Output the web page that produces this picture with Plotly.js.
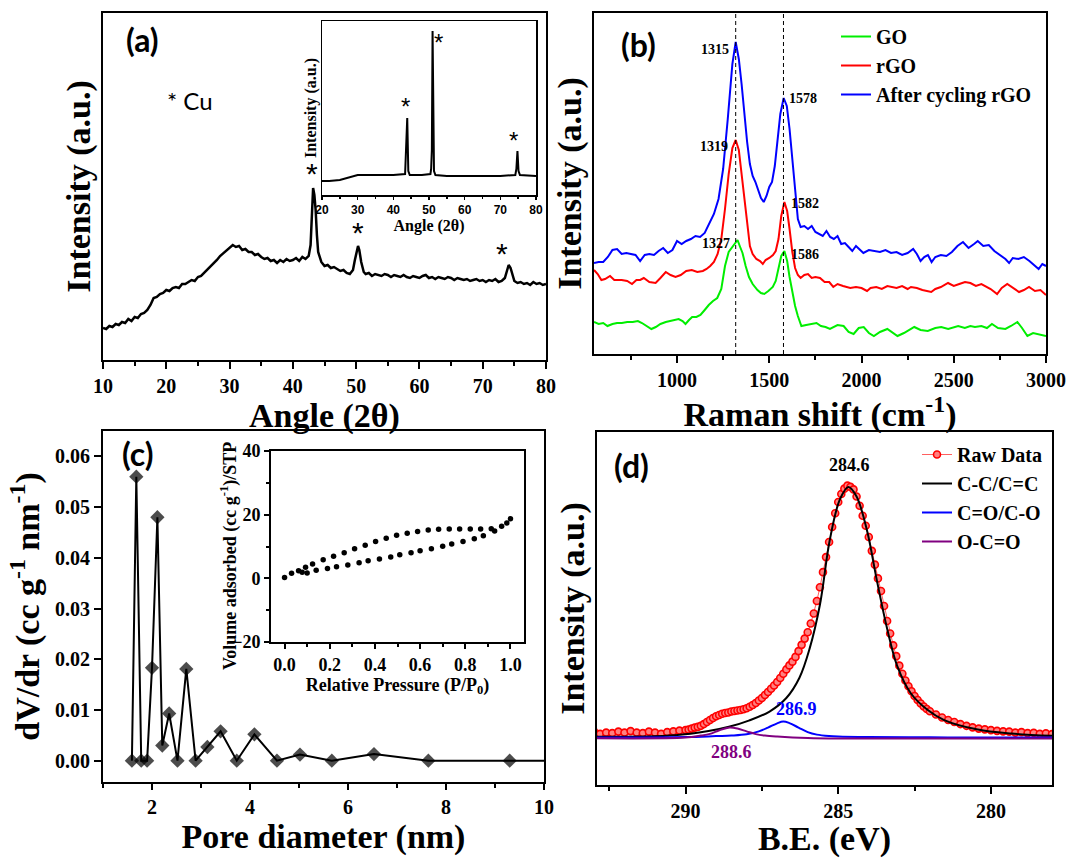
<!DOCTYPE html>
<html>
<head>
<meta charset="utf-8">
<script src="https://cdn.plot.ly/plotly-3.0.1.min.js"></script>
<style>html,body{margin:0;padding:0;background:#fff;}#chart{width:1069px;height:858px;}</style>
</head>
<body>
<div id="chart"></div>
<script>
// ---------- DATA ----------
// (a) XRD main pattern
const xrdAngle = [10.0,10.5,11.0,11.5,12.0,12.5,13.0,13.5,14.0,14.5,15.0,15.5,16.0,16.5,17.0,17.5,18.0,18.5,19.0,19.5,20.0,20.5,21.0,21.5,22.0,22.5,23.0,23.5,24.0,24.5,25.0,25.5,26.0,26.5,27.0,27.5,28.0,28.5,29.0,29.5,30.0,30.5,31.0,31.5,32.0,32.5,33.0,33.5,34.0,34.5,35.0,35.5,36.0,36.5,37.0,37.5,38.0,38.5,39.0,39.5,40.0,40.5,41.0,41.5,42.0,42.5,42.8,43.0,43.2,43.4,43.6,43.8,44.0,44.5,45.0,45.5,46.0,46.5,47.0,47.5,48.0,48.5,49.0,49.5,49.8,50.1,50.3,50.5,50.8,51.2,51.5,52.0,52.5,53.0,53.5,54.0,54.5,55.0,55.5,56.0,56.5,57.0,57.5,58.0,58.5,59.0,59.5,60.0,60.5,61.0,61.5,62.0,62.5,63.0,63.5,64.0,64.5,65.0,65.5,66.0,66.5,67.0,67.5,68.0,68.5,69.0,69.5,70.0,70.5,71.0,71.5,72.0,72.5,73.0,73.5,73.8,74.1,74.4,74.7,75.0,75.5,76.0,76.5,77.0,77.5,78.0,78.5,79.0,79.5,80.0];
const xrdIntensity = [32,31,34,33,36,35,38,37,41,39,43,42,46,47,50,55,62,63,66,67,70,69,72,73,72,76,76,78,80,79,83,84,87,90,93,96,100,104,107,110,112,115,113,114,110,111,108,108,105,106,103,101,102,99,100,97,100,98,101,99,100,102,99,103,101,104,115,150,172,165,150,125,108,98,94,95,92,93,91,89,90,87,86,90,100,110,114,110,98,88,86,87,84,86,85,84,86,85,83,85,84,83,85,83,82,84,83,82,84,85,82,83,81,83,82,81,83,82,80,82,81,80,81,79,80,81,79,80,78,80,79,81,78,79,82,88,95,92,84,79,77,78,76,77,75,78,76,77,75,76];
// (a) inset XRD
const insetAngle = [20,22,25,28,30,35,40,43.3,43.6,43.9,44.2,44.6,48,50.4,50.6,50.8,51.0,51.2,51.4,51.8,55,60,65,70,74.2,74.5,74.8,75.1,75.5,80];
const insetIntensity = [14,14,15,18,20,20,20,21,45,77,24,20,20,21,26,45,164,30,24,20,19,19,19,19,20,26,44,24,20,19];
// (b) Raman spectra
const ramanShiftAfter = [550,575,600,625,650,675,700,725,750,775,800,825,850,875,900,925,950,975,1000,1025,1050,1075,1100,1125,1150,1175,1200,1225,1250,1275,1300,1318,1335,1350,1365,1380,1395,1410,1425,1440,1455,1470,1485,1500,1515,1530,1545,1560,1578,1595,1610,1625,1640,1655,1670,1690,1710,1730,1750,1770,1790,1810,1830,1850,1870,1890,1910,1930,1950,1970,1990,2010,2040,2070,2100,2130,2160,2190,2220,2250,2280,2300,2320,2340,2360,2380,2400,2430,2460,2490,2520,2550,2580,2610,2630,2660,2690,2720,2750,2780,2800,2820,2850,2880,2910,2940,2960,2980,3000];
const ramanAfter = [91,92,92,97,104,105,100,101,100,99,93,99,100,99,103,106,101,104,113,110,113,115,118,117,121,130,140,155,185,235,290,312,295,270,240,212,190,178,172,164,156,152,158,167,172,188,215,240,256,248,225,192,160,135,127,128,125,128,122,120,118,123,117,115,118,110,111,107,103,108,104,101,104,103,102,104,101,102,99,101,105,100,93,97,99,92,97,99,98,102,108,112,106,110,113,108,109,103,99,95,91,96,95,97,93,88,85,90,88];
const ramanShiftRGO = [550,570,590,610,637,660,700,730,756,780,800,820,850,884,910,939,965,992,1020,1050,1080,1110,1140,1160,1180,1200,1220,1240,1260,1280,1300,1318,1335,1350,1365,1380,1395,1410,1430,1450,1465,1480,1500,1520,1535,1550,1565,1582,1597,1610,1625,1640,1655,1670,1690,1710,1730,1750,1775,1800,1825,1847,1870,1900,1939,1970,2000,2030,2049,2080,2110,2140,2158,2190,2220,2250,2268,2300,2330,2360,2378,2400,2430,2469,2500,2530,2561,2590,2620,2650,2671,2700,2735,2760,2790,2820,2854,2880,2908,2940,2970,3000];
const ramanRGO = [84,80,74,75,78,74,74,73,70,74,74,76,72,71,76,82,79,77,79,83,84,82,83,85,88,92,100,115,145,180,206,214,204,180,150,126,108,100,95,93,90,94,96,99,103,115,138,152,143,125,102,86,79,76,79,80,76,77,76,72,72,67,70,68,66,67,66,63,66,67,65,68,67,66,68,65,67,66,64,63,62,65,67,71,68,70,72,71,68,70,68,65,60,66,70,66,62,64,67,63,64,59];
const ramanShiftGO = [550,575,600,623,650,675,701,730,760,788,810,835,861,885,910,939,970,1009,1030,1046,1065,1082,1105,1127,1150,1172,1195,1218,1240,1260,1280,1300,1315,1328,1340,1355,1372,1390,1410,1436,1455,1473,1495,1519,1535,1550,1565,1582,1597,1610,1625,1640,1655,1674,1700,1730,1756,1780,1805,1829,1850,1870,1903,1930,1957,1985,2012,2040,2067,2100,2140,2170,2195,2230,2260,2286,2320,2359,2400,2432,2470,2500,2524,2560,2590,2615,2650,2680,2707,2740,2780,2810,2845,2870,2899,2930,2960,3000];
const ramanGO = [32,30,31,28,30,31,31,32,32,33,31,28,25,27,30,32,33,35,33,30,34,37,37,39,44,49,53,56,65,88,102,107,111,114,108,101,88,77,70,64,61,60,63,67,73,85,98,103,93,77,62,48,38,28,29,30,31,28,27,25,27,29,28,22,20,26,27,21,18,22,25,21,18,21,24,27,24,23,26,27,25,27,28,26,28,27,28,26,30,26,25,28,32,26,18,21,20,18];
const ramanRefLines = [1318, 1577];
const ramanPeakLabels = ['1315','1578','1319','1582','1327','1586'];
// (c) pore size distribution
const poreDiameter = [1.59,1.68,1.78,1.90,2.00,2.11,2.21,2.35,2.52,2.70,2.89,3.13,3.40,3.73,4.09,4.55,5.02,5.67,6.53,7.64,9.30,10.0];
const poreDvDr = [0,0.056,0,0,0.0183,0.048,0.003,0.0093,0,0.0181,0,0.0027,0.0058,0,0.0052,0,0.0012,0,0.0013,0,0,0];
// (c) inset isotherm
const desorbP = [0,0.031,0.062,0.093,0.124,0.171,0.217,0.264,0.310,0.357,0.403,0.450,0.496,0.543,0.589,0.636,0.682,0.729,0.775,0.822,0.868,0.915,0.961,0.984,1.0];
const desorbV = [0.3,1.6,2.4,3.5,4.5,5.8,6.9,8.0,9.3,10.4,11.6,12.6,13.5,14.2,14.7,15.2,15.4,15.5,15.5,15.5,15.5,15.6,16.4,17.4,18.7];
const adsorbP = [0.078,0.10,0.14,0.19,0.23,0.28,0.33,0.37,0.42,0.47,0.51,0.56,0.60,0.65,0.70,0.74,0.79,0.84,0.88,0.93];
const adsorbV = [1.9,1.7,2.5,3.1,3.6,4.2,4.9,5.5,6.1,6.7,7.4,8.0,8.7,9.3,10.1,10.8,11.6,12.4,13.4,14.9];
// (d) XPS C1s
const beRaw = [293.0,292.8,292.6,292.4,292.2,292.0,291.8,291.6,291.4,291.2,291.0,290.8,290.6,290.4,290.2,290.0,289.9,289.8,289.7,289.6,289.5,289.4,289.3,289.2,289.1,289.0,288.9,288.8,288.7,288.6,288.5,288.4,288.3,288.2,288.1,288.0,287.9,287.8,287.7,287.6,287.5,287.4,287.3,287.2,287.1,287.0,286.9,286.8,286.7,286.6,286.5,286.4,286.3,286.2,286.1,286.0,285.9,285.8,285.7,285.6,285.5,285.4,285.3,285.2,285.1,285.0,284.9,284.8,284.7,284.6,284.5,284.4,284.3,284.2,284.1,284.0,283.9,283.8,283.7,283.6,283.5,283.4,283.3,283.2,283.1,283.0,282.9,282.8,282.7,282.6,282.5,282.4,282.3,282.2,282.1,282.0,281.8,281.6,281.4,281.2,281.0,280.8,280.6,280.4,280.2,280.0,279.8,279.6,279.4,279.2,279.0,278.8,278.6,278.4,278.2,278.0];
const intRaw = [0.025,0.015,0.02,0.018,0.024,0.02,0.026,0.02,0.018,0.024,0.02,0.015,0.022,0.025,0.028,0.03,0.032,0.036,0.04,0.043,0.047,0.054,0.062,0.07,0.078,0.085,0.09,0.095,0.098,0.1,0.104,0.106,0.108,0.11,0.113,0.117,0.123,0.13,0.138,0.148,0.158,0.17,0.182,0.195,0.208,0.222,0.238,0.255,0.272,0.288,0.303,0.322,0.345,0.37,0.395,0.42,0.455,0.495,0.545,0.6,0.66,0.72,0.78,0.84,0.895,0.94,0.972,0.993,1.005,1.0,0.99,0.962,0.925,0.885,0.845,0.8,0.745,0.69,0.635,0.585,0.525,0.465,0.415,0.368,0.325,0.287,0.255,0.228,0.205,0.185,0.166,0.15,0.136,0.124,0.114,0.105,0.092,0.08,0.07,0.062,0.054,0.047,0.041,0.036,0.033,0.03,0.027,0.025,0.024,0.02,0.022,0.018,0.019,0.015,0.017,0.014];
const beCC = [292.9,290.35,289.25,288.58,287.93,287.25,286.7,286.27,285.94,285.6,285.28,284.95,284.67,284.4,284.06,283.73,283.4,283.07,282.63,282.08,281.53,280.43,279.32,278.0];
const intCC = [0.003,0.009,0.026,0.043,0.068,0.104,0.158,0.239,0.354,0.53,0.786,0.949,1.0,0.962,0.827,0.624,0.435,0.286,0.178,0.111,0.07,0.032,0.016,0.007];
const beCO = [292.9,290.0,289.0,288.5,288.0,287.6,287.3,287.0,286.8,286.6,286.3,286.0,285.7,285.3,285.0,284.0,282.0,280.0,278.0];
const intCO = [0.0,0.002,0.006,0.008,0.013,0.025,0.04,0.057,0.064,0.058,0.04,0.022,0.012,0.006,0.004,0.002,0.001,0.0,0.0];
const beOCO = [292.9,290.0,289.5,289.2,289.0,288.8,288.55,288.3,288.0,287.7,287.4,287.0,286.0,285.0,278.0];
const intOCO = [-0.003,0.0,0.008,0.015,0.024,0.033,0.04,0.036,0.025,0.014,0.008,0.004,-0.002,-0.004,-0.004];

// ---------- LAYOUT HELPERS ----------
const W = 1069, H = 858;
const dx = (a, b) => [a / W, b / W];
const dy = (top, bottom) => [1 - bottom / H, 1 - top / H];
const SERIF = 'Liberation Serif, Times New Roman, serif';
const SANS = 'Liberation Sans, Arial, sans-serif';
const LABEL = 'Lato, Open Sans, sans-serif';
const bold = (size, color, family) => ({family: family || SERIF, size: size, color: color || '#000', weight: 700});

function axis(extra) {
  return Object.assign({
    showline: true, linecolor: '#000', linewidth: 2, mirror: true,
    zeroline: false, showgrid: false, ticks: 'outside', ticklen: 7, tickwidth: 2, tickcolor: '#000',
    tickfont: bold(20), automargin: false, fixedrange: true
  }, extra);
}
const noTickY = {ticks: '', showticklabels: false};
const titleObj = (text, size, standoff) => ({text: text, font: bold(size), standoff: standoff});

// ---------- TRACES ----------
const traces = [
  {x: xrdAngle, y: xrdIntensity, xaxis: 'x', yaxis: 'y', mode: 'lines', line: {color: '#000', width: 2.5}, showlegend: false},
  {x: insetAngle, y: insetIntensity, xaxis: 'x2', yaxis: 'y2', mode: 'lines', line: {color: '#000', width: 2}, showlegend: false},
  {x: ramanShiftGO, y: ramanGO, xaxis: 'x3', yaxis: 'y3', mode: 'lines', name: 'GO', line: {color: '#00ee00', width: 2}, legend: 'legend'},
  {x: ramanShiftRGO, y: ramanRGO, xaxis: 'x3', yaxis: 'y3', mode: 'lines', name: 'rGO', line: {color: '#ff0000', width: 2}, legend: 'legend'},
  {x: ramanShiftAfter, y: ramanAfter, xaxis: 'x3', yaxis: 'y3', mode: 'lines', name: 'After cycling rGO', line: {color: '#0000ff', width: 2}, legend: 'legend'},
  {x: poreDiameter, y: poreDvDr, xaxis: 'x4', yaxis: 'y4', mode: 'lines+markers', line: {color: '#000', width: 2},
   marker: {symbol: 'diamond', color: '#000', line: {width: 0}, size: poreDiameter.map((d, i) => i === poreDiameter.length - 1 ? 0 : 11)}, showlegend: false, cliponaxis: false},
  {x: desorbP, y: desorbV, xaxis: 'x5', yaxis: 'y5', mode: 'markers', marker: {color: '#000', size: 5.5}, showlegend: false},
  {x: adsorbP, y: adsorbV, xaxis: 'x5', yaxis: 'y5', mode: 'markers', marker: {color: '#000', size: 5.5}, showlegend: false},
  {x: beRaw, y: intRaw, xaxis: 'x6', yaxis: 'y6', mode: 'lines+markers', name: 'Raw Data', line: {color: '#ff6060', width: 1},
   marker: {symbol: 'circle', size: 7, color: '#ff8080', line: {color: '#ff0000', width: 1.6}}, legend: 'legend2'},
  {x: beCC, y: intCC, xaxis: 'x6', yaxis: 'y6', mode: 'lines', name: 'C-C/C=C', line: {color: '#000', width: 2, shape: 'spline'}, legend: 'legend2'},
  {x: beCO, y: intCO, xaxis: 'x6', yaxis: 'y6', mode: 'lines', name: 'C=O/C-O', line: {color: '#0000ff', width: 2, shape: 'spline'}, legend: 'legend2'},
  {x: beOCO, y: intOCO, xaxis: 'x6', yaxis: 'y6', mode: 'lines', name: 'O-C=O', line: {color: '#800080', width: 2, shape: 'spline'}, legend: 'legend2'}
];

// ---------- ANNOTATIONS ----------
function ann(text, px, py, font, extra) {
  return Object.assign({text: text, x: px / W, y: 1 - py / H, xref: 'paper', yref: 'paper', showarrow: false,
    xanchor: 'center', yanchor: 'middle', font: font}, extra || {});
}
const star = size => ({family: SANS, size: size, color: '#000'});
const annotations = [
  ann('(a)', 142, 40, bold(32, '#000', LABEL)),
  ann('* Cu', 190, 100, {family: LABEL, size: 24, color: '#000'}),
  ann('*', 312, 173, star(30)),
  ann('*', 358, 233, star(30)),
  ann('*', 502, 253, star(30)),
  ann('*', 405, 107, star(24)),
  ann('*', 438, 42, star(24)),
  ann('*', 513, 140, star(24)),
  ann('(b)', 638, 44, bold(32, '#000', LABEL)),
  ann(ramanPeakLabels[0], 715, 49, bold(14)),
  ann(ramanPeakLabels[1], 803, 98, bold(14)),
  ann(ramanPeakLabels[2], 714, 146, bold(14)),
  ann(ramanPeakLabels[3], 805, 204, bold(14)),
  ann(ramanPeakLabels[4], 716, 244, bold(14)),
  ann(ramanPeakLabels[5], 805, 254, bold(14)),
  ann('(c)', 138, 454, bold(32, '#000', LABEL)),
  ann('Volume adsorbed (cc g<sup>-1</sup>)/STP', 229, 556, bold(18), {textangle: -90}),
  ann('(d)', 631, 465, bold(32, '#000', LABEL)),
  ann('284.6', 849, 465, bold(18)),
  ann('286.9', 796, 709, bold(18, '#0000ff')),
  ann('288.6', 731, 752, bold(18, '#800080'))
];

const shapes = ramanRefLines.map(v => ({type: 'line', xref: 'x3', yref: 'y3 domain', x0: v, x1: v, y0: 0, y1: 1,
  line: {color: '#000', width: 1, dash: '4px,3px'}}));

const layout = {
  width: W, height: H, margin: {l: 0, r: 0, t: 0, b: 0}, paper_bgcolor: '#fff', plot_bgcolor: 'rgba(0,0,0,0)',
  font: {family: SERIF, color: '#000'},
  // (a) main
  xaxis: axis({domain: dx(103, 546), range: [10, 80], dtick: 10, anchor: 'y',
    minor: {dtick: 5, ticks: 'outside', ticklen: 4, tickwidth: 2, tickcolor: '#000'},
    title: titleObj('Angle (2θ)', 34, 5)}),
  yaxis: axis(Object.assign({domain: dy(13, 360), range: [0, 347], anchor: 'x',
    title: titleObj('Intensity (a.u.)', 34, 0)}, noTickY)),
  // (a) inset
  xaxis2: axis({domain: dx(322, 536), range: [20, 80], dtick: 10, anchor: 'y2', linewidth: 1.5, ticklen: 3, tickwidth: 1.5,
    tickfont: bold(12, '#000', SANS),
    minor: {dtick: 5, ticks: 'outside', ticklen: 2, tickwidth: 1.5, tickcolor: '#000'},
    title: titleObj('Angle (2θ)', 16, 0)}),
  yaxis2: axis(Object.assign({domain: dy(21, 195), range: [0, 174], anchor: 'x2', linewidth: 1.5,
    title: titleObj('Intensity (a.u.)', 16, 0)}, noTickY)),
  // (b)
  xaxis3: axis({domain: dx(594, 1046), range: [550, 3000], tick0: 0, dtick: 500, anchor: 'y3',
    minor: {dtick: 250, ticks: 'outside', ticklen: 4, tickwidth: 2, tickcolor: '#000'},
    title: titleObj('Raman shift (cm<sup>-1</sup>)', 34, 5)}),
  yaxis3: axis(Object.assign({domain: dy(13, 354), range: [0, 341], anchor: 'x3',
    title: titleObj('Intensity (a.u.)', 34, 0)}, noTickY)),
  // (c)
  xaxis4: axis({domain: dx(103, 544), range: [1, 10], tick0: 0, dtick: 2, anchor: 'y4', ticklen: 6,
    minor: {dtick: 1, ticks: 'outside', ticklen: 4, tickwidth: 2, tickcolor: '#000'},
    title: titleObj('Pore diameter (nm)', 34, 0)}),
  yaxis4: axis({domain: dy(431, 782), range: [-0.0042, 0.065], tick0: 0, dtick: 0.01, tickformat: '.2f', anchor: 'x4',
    title: titleObj('dV/dr (cc g<sup>-1</sup> nm<sup>-1</sup>)', 34, 5)}),
  // (c) inset
  xaxis5: axis({domain: dx(271, 524), range: [-0.06, 1.06], tick0: 0, dtick: 0.2, tickformat: '.1f', anchor: 'y5',
    ticklen: 5, tickfont: bold(18),
    minor: {dtick: 0.1, ticks: 'outside', ticklen: 3, tickwidth: 2, tickcolor: '#000'},
    title: titleObj('Relative Pressure (P/P<sub>0</sub>)', 18, 0)}),
  yaxis5: axis({domain: dy(451, 642), range: [-20, 40], dtick: 20, anchor: 'x5', ticklen: 5, tickfont: bold(18),
    minor: {dtick: 10, ticks: 'outside', ticklen: 3, tickwidth: 2, tickcolor: '#000'}}),
  // (d)
  xaxis6: axis({domain: dx(597, 1052), range: [292.9, 278.0], dtick: 5, anchor: 'y6',
    minor: {dtick: 2.5, ticks: 'outside', ticklen: 4, tickwidth: 2, tickcolor: '#000'},
    title: titleObj('B.E. (eV)', 34, 5)}),
  yaxis6: axis(Object.assign({domain: dy(432, 785), range: [-0.189, 1.219], anchor: 'x6',
    title: titleObj('Intensity (a.u.)', 34, 0)}, noTickY)),
  legend: {x: 836 / W, y: 1 - 17 / H, xanchor: 'left', yanchor: 'top', bgcolor: 'rgba(0,0,0,0)',
    font: bold(20), tracegroupgap: 0},
  legend2: {x: 917 / W, y: 1 - 435 / H, xanchor: 'left', yanchor: 'top', bgcolor: 'rgba(0,0,0,0)',
    font: bold(20), tracegroupgap: 0},
  annotations: annotations,
  shapes: shapes
};

Plotly.newPlot('chart', traces, layout, {staticPlot: true, displayModeBar: false});
</script>
</body>
</html>
